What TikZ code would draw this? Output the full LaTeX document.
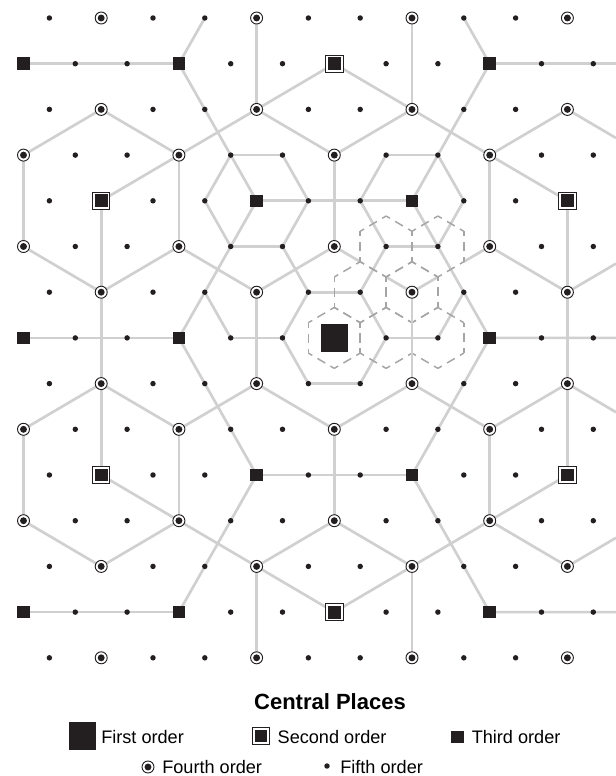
\documentclass[tikz,border=0pt]{standalone}
\usepackage{fontspec}
\setmainfont{Liberation Sans}
\usetikzlibrary{calc,backgrounds}
\definecolor{placeblack}{RGB}{35,31,32}
\definecolor{roadgrey}{RGB}{208,208,208}
\definecolor{cellgrey}{RGB}{165,165,165}

\tikzset{
  fifth/.style={circle, fill=placeblack, minimum size=4.1pt, inner sep=0pt},
  fourth/.style={circle, draw=placeblack, line width=0.7pt, fill=white,
    minimum size=9pt, inner sep=0pt,
    path picture={\fill[placeblack] (path picture bounding box.center) circle (2.6pt);}},
  third/.style={rectangle, fill=placeblack, minimum size=9.4pt, inner sep=0pt},
  second/.style={rectangle, draw=placeblack, line width=0.7pt, fill=white,
    minimum size=13pt, inner sep=0pt,
    path picture={\fill[placeblack] ([shift={(-4.8pt,-4.8pt)}]path picture bounding box.center) rectangle ++(9.6pt,9.6pt);}},
  first/.style={rectangle, fill=placeblack, minimum size=20.5pt, inner sep=0pt},
  road/.style={line width=2pt, draw=roadgrey},
  cellline/.style={line width=1.1pt, draw=cellgrey, dash pattern=on 6.75pt off 4.5pt, dash phase=3.375pt},
  keytext/.style={anchor=west, inner sep=0pt, font=\fontsize{13.6}{16}\selectfont}
}

% dashed market cell round a place, one side at a time
\newcommand{\cellhex}[1]{%
  \foreach \xa/\ya/\xb/\yb in {0/-30.47/25.9/-15.23, 25.9/-15.23/25.9/15.23,
      25.9/15.23/0/30.47, 0/30.47/-25.9/15.23, -25.9/15.23/-25.9/-15.23,
      -25.9/-15.23/0/-30.47}
    \draw[cellline, shift={(#1)}] (\xa,\ya) -- (\xb,\yb);}

\begin{document}
\begin{tikzpicture}[x=0.75pt, y=-0.75pt]
  \useasboundingbox (0,0) rectangle (616,776);

  % Lattice of places
  \foreach \r in {0,...,14}{
    \pgfmathtruncatemacro\cmax{isodd(\r) ? 11 : 10}
    \pgfmathsetmacro\xo{isodd(\r) ? 23.5 : 49.4}
    \foreach \c in {0,...,\cmax}{
      \pgfmathsetmacro\px{\xo+51.8*\c}
      \pgfmathsetmacro\py{18+45.7*\r}
      \pgfmathtruncatemacro\ord{isodd(\r) ? ((\r==1 || \r==7 || \r==13) ? (\c==6 ? (\r==7 ? 1 : 2) : ((\c==0 || \c==3 || \c==9) ? 3 : 5)) : (mod(\c,3)==0 ? 4 : 5)) : (mod(\c,3)==1 ? ((\r==4 || \r==10) ? ((\c==1 || \c==10) ? 2 : 3) : 4) : 5)}
      \ifcase\ord
      \or \node[first] (n\r-\c) at (\px,\py) {};
      \or \node[second] (n\r-\c) at (\px,\py) {};
      \or \node[third] (n\r-\c) at (\px,\py) {};
      \or \node[fourth] (n\r-\c) at (\px,\py) {};
      \or \node[fifth] (n\r-\c) at (\px,\py) {};
      \fi
    }
  }

  % Free ends at the right margin
  \coordinate (er1) at (616,63.7);
  \coordinate (er7) at (616,337.9);
  \coordinate (er13) at (616,612.1);
  \coordinate (ea) at (616,138.0);
  \coordinate (eb) at (616,263.6);
  \coordinate (ec) at (616,412.2);
  \coordinate (ed) at (616,537.8);

  \begin{scope}[on background layer]
    % Roads
    \foreach \a/\b in {n1-0/n1-3, n1-3/n0-3, n1-3/n4-4, n0-4/n2-4, n3-3/n1-6,
        n2-4/n3-6, n3-0/n2-1, n2-1/n3-3, n3-0/n5-0, n3-3/n5-3, n4-1/n3-3,
        n4-1/n10-1, n5-0/n6-1, n6-1/n5-3,
        n1-6/n2-7, n0-7/n2-7, n2-7/n3-6, n2-7/n3-9, n3-9/n2-10, n2-10/ea,
        n0-8/n1-9, n1-9/er1, n1-9/n4-7, n3-6/n5-6, n3-9/n5-9, n3-9/n4-10,
        n4-10/n10-10, n5-9/n6-10, n6-10/eb}
      \draw[road] (\a.center) -- (\b.center);
    \foreach \a/\b in {n4-4/n4-7, n3-4/n3-5, n3-5/n4-5, n4-5/n5-5, n5-5/n5-4,
        n5-4/n4-3, n4-3/n3-4, n4-4/n7-3, n3-7/n3-8, n3-8/n4-8, n4-8/n5-8,
        n5-8/n5-7, n5-7/n4-6, n4-6/n3-7, n4-7/n7-9, n5-5/n6-5, n6-5/n7-5,
        n7-5/n7-4, n7-4/n6-3, n6-5/n6-6, n6-6/n7-7, n7-7/n8-6, n8-6/n8-5,
        n8-5/n7-5, n6-8/n7-8, n7-8/n7-7, n6-6/n5-7, n5-6/n6-4, n5-3/n6-4,
        n6-4/n8-4, n7-0/n7-3, n7-9/er7}
      \draw[road] (\a.center) -- (\b.center);
    \foreach \a/\b in {n7-3/n10-4, n8-4/n9-3, n8-4/n9-6, n8-7/n9-6, n8-7/n9-9,
        n7-9/n10-7, n10-4/n10-7, n10-4/n13-3, n10-7/n13-9, n8-1/n9-0,
        n8-1/n9-3, n9-0/n11-0, n9-3/n11-3, n11-0/n12-1, n12-1/n11-3,
        n10-1/n11-3, n9-6/n11-6, n9-9/n11-9, n8-10/n9-9, n8-10/ec,
        n10-10/n11-9, n11-3/n12-4, n12-4/n11-6, n12-4/n14-4, n12-4/n13-6,
        n13-6/n12-7, n12-7/n11-6, n12-7/n11-9, n12-7/n14-7, n11-9/n12-10,
        n12-10/ed, n13-0/n13-3, n13-9/er13}
      \draw[road] (\a.center) -- (\b.center);
    % Roads broken where a cell border runs on them
    \foreach \a/\b in {n5-6/n6-7, n6-7/n5-9}
      \draw[road] (\a.center) -- ($(\a.center)!1/3!(\b.center)$)
        ($(\a.center)!2/3!(\b.center)$) -- (\b.center);
    % Market cells
    \foreach \p in {n7-6, n5-7, n5-8, n6-6, n6-7, n7-7, n7-8}{
      \cellhex{\p}
    }
    % this road stays whole over the cell border
    \draw[road] (n6-7.center) -- (n8-7.center);
  \end{scope}

  % Legend
  \node[font=\fontsize{16.5}{19}\selectfont\bfseries] (title) at (330,702) {Central Places};
  \node[first] (k1) at (82.5,736) {};
  \node[keytext] (t1) at (101,737) {First order};
  \node[second] (k2) at (261,736) {};
  \node[keytext] (t2) at (277.4,737) {Second order};
  \node[third] (k3) at (457.5,737) {};
  \node[keytext] (t3) at (471.5,737) {Third order};
  \node[fourth] (k4) at (148,767) {};
  \node[keytext] (t4) at (162,767) {Fourth order};
  \node[fifth] (k5) at (327,766) {};
  \node[keytext] (t5) at (340,767) {Fifth order};
\end{tikzpicture}
\end{document}
